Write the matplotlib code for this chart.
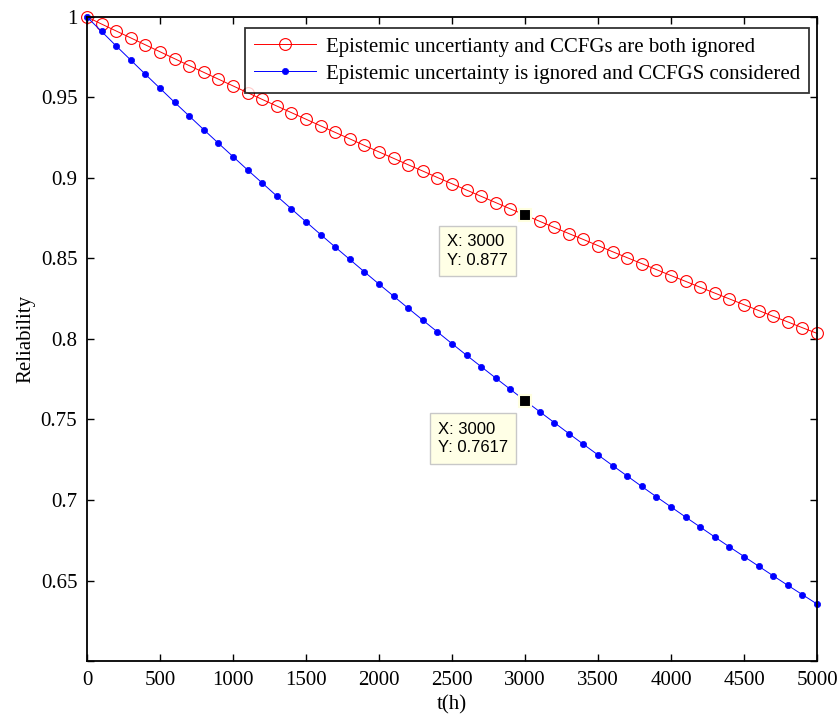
import matplotlib
matplotlib.use("Agg")
import matplotlib.pyplot as plt
import numpy as np

plt.rcParams['font.family'] = ['Liberation Serif', 'DejaVu Serif']

# time points (h)
t = np.arange(0, 5001, 100)

# both ignored (red circles)
r_ignored = [1.0000, 0.9956, 0.9913, 0.9870, 0.9827, 0.9784, 0.9741, 0.9698, 0.9656, 0.9614,
             0.9572, 0.9530, 0.9488, 0.9447, 0.9406, 0.9365, 0.9324, 0.9283, 0.9243, 0.9202,
             0.9162, 0.9122, 0.9082, 0.9043, 0.9003, 0.8964, 0.8925, 0.8886, 0.8847, 0.8808,
             0.8770, 0.8731, 0.8693, 0.8655, 0.8618, 0.8580, 0.8542, 0.8505, 0.8468, 0.8431,
             0.8394, 0.8358, 0.8321, 0.8285, 0.8249, 0.8213, 0.8177, 0.8141, 0.8106, 0.8070,
             0.8035]

# CCFGs considered (blue dots)
r_ccfg = [1.0000, 0.9910, 0.9820, 0.9732, 0.9644, 0.9557, 0.9470, 0.9385, 0.9300, 0.9216,
          0.9133, 0.9050, 0.8969, 0.8888, 0.8808, 0.8728, 0.8649, 0.8571, 0.8494, 0.8417,
          0.8341, 0.8266, 0.8191, 0.8117, 0.8044, 0.7971, 0.7899, 0.7828, 0.7757, 0.7687,
          0.7617, 0.7549, 0.7481, 0.7413, 0.7346, 0.7280, 0.7214, 0.7149, 0.7084, 0.7020,
          0.6957, 0.6894, 0.6832, 0.6770, 0.6709, 0.6649, 0.6589, 0.6529, 0.6470, 0.6412,
          0.6354]

labels = ['Epistemic uncertianty and CCFGs are both ignored',
          'Epistemic uncertainty is ignored and CCFGS considered']

# data tips
tip_x = [3000, 3000]
tip_y = [0.877, 0.7617]
tip_txt = ['X: 3000\nY: 0.877', 'X: 3000\nY: 0.7617']
tip_off = [(-78, -19), (-87, -21)]

fig = plt.figure(figsize=(8.39, 7.17), dpi=100)
ax = fig.add_axes([0.1037, 0.0781, 0.8701, 0.8982])

ax.plot(t, r_ignored, '-o', color='#ff0000', lw=0.7, markersize=8.5,
        markerfacecolor='none', markeredgewidth=0.8, label=labels[0],
        clip_on=False)
ax.plot(t, r_ccfg, '-o', color='#0000ff', lw=0.7, markersize=4.5,
        markeredgewidth=0.5, label=labels[1], clip_on=False)

for x, y, s, off in zip(tip_x, tip_y, tip_txt, tip_off):
    ax.plot(x, y, 's', color='black', markersize=8.5,
            markeredgecolor='#ffffe0', markeredgewidth=1.5, zorder=5)
    ax.annotate(s, xy=(x, y), xytext=off, textcoords='offset pixels',
                ha='left', va='top', fontsize=12, linespacing=1.3,
                family=['Liberation Sans', 'DejaVu Sans'],
                bbox=dict(boxstyle='square,pad=0.5', fc='#ffffe6',
                          ec='#c8c8c8', lw=1), zorder=6)

ax.set_xlim(0, 5000)
ax.set_ylim(0.6, 1.0)
ax.set_xticks(np.arange(0, 5001, 500))
yt = np.arange(0.6, 1.0001, 0.05)
ax.set_yticks(yt)
ax.set_yticklabels([''] + ['%g' % round(v, 2) for v in yt[1:]])
ax.tick_params(direction='in', top=True, right=True, length=5,
               width=1, labelsize=15, pad=7)
for sp in ax.spines.values():
    sp.set_linewidth(1.3)

ax.set_xlabel('t(h)', fontsize=15, labelpad=4)
ax.set_ylabel('Reliability', fontsize=15, labelpad=4)

leg = ax.legend(loc='upper right', bbox_to_anchor=(0.989, 0.983), fontsize=15,
                frameon=True, fancybox=False, borderaxespad=0,
                handlelength=3.0, handletextpad=0.45, borderpad=0.44,
                labelspacing=0.36)
leg.get_frame().set_edgecolor('black')
leg.get_frame().set_linewidth(1.3)

fig.savefig('out.png', dpi=100)
